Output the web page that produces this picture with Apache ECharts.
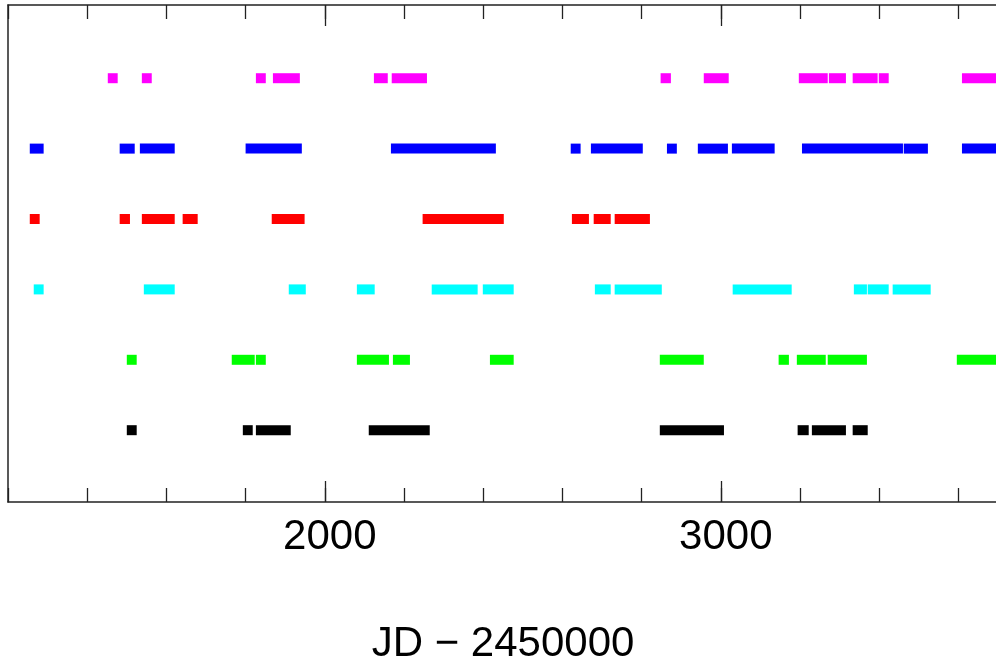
<!DOCTYPE html>
<html>
<head>
<meta charset="utf-8">
<script src="https://cdn.jsdelivr.net/npm/echarts@6/dist/echarts.min.js"></script>
<style>
html,body{margin:0;padding:0;background:#fff;}
#chart{width:996px;height:661px;}
</style>
</head>
<body>
<div id="chart"></div>
<script>
// Observing windows [start, end] in JD - 2450000, one array per row
const rowBlack   = [[1500,1525],[1793,1818],[1826,1914],[2111,2265],[2846,3008],[3194,3222],[3230,3316],[3333,3371]];
const rowGreen   = [[1500,1525],[1765,1823],[1826,1851],[2081,2162],[2172,2215],[2417,2477],[2846,2957],[3146,3172],[3192,3265],[3270,3369],[3596,3720]];
const rowCyan    = [[1265,1290],[1543,1621],[1909,1952],[2081,2126],[2270,2386],[2399,2477],[2682,2722],[2732,2851],[3030,3179],[3336,3369],[3371,3424],[3434,3530]];
const rowRed     = [[1255,1280],[1482,1508],[1538,1621],[1641,1679],[1866,1949],[2247,2452],[2624,2667],[2679,2722],[2732,2821]];
const rowBlue    = [[1255,1290],[1482,1520],[1533,1621],[1800,1942],[2167,2432],[2621,2646],[2672,2803],[2864,2889],[2942,3018],[3028,3136],[3205,3460],[3462,3523],[3609,3720]];
const rowMagenta = [[1452,1477],[1538,1563],[1826,1851],[1869,1937],[2124,2159],[2169,2258],[2848,2874],[2957,3020],[3197,3270],[3273,3316],[3333,3396],[3399,3424],[3609,3720]];

const rows = [
  {data: rowBlack,   level: 1, color: '#000000'},
  {data: rowGreen,   level: 2, color: '#00ff00'},
  {data: rowCyan,    level: 3, color: '#00ffff'},
  {data: rowRed,     level: 4, color: '#ff0000'},
  {data: rowBlue,    level: 5, color: '#0000ff'},
  {data: rowMagenta, level: 6, color: '#ff00ff'}
];

const xMin = 1200, xMax = 3700, minorStep = 200;
const majorMin = 2000, majorStep = 1000;
const tickLabels = [2000, 3000];
const axisName = 'JD \u2212 2450000';

const lineStyle = {color: '#222', width: 1.5};
const tickStyle = {color: '#222', width: 1.3};
const font = '"Liberation Sans", Arial, Helvetica, sans-serif';

// pixel layout
const gLeft = 8, gTop = 5, gW = 990, gH = 497;
const pxPerUnit = gW / (xMax - xMin);
const g2Left = gLeft + (majorMin - xMin) * pxPerUnit;

function makeRender(color) {
  return function (params, api) {
    const s = api.coord([api.value(0), api.value(2)]);
    const e = api.coord([api.value(1), api.value(2)]);
    const h = 10;
    const rect = echarts.graphic.clipRectByRect(
      {x: s[0], y: s[1] - h / 2, width: e[0] - s[0], height: h},
      {x: params.coordSys.x, y: params.coordSys.y, width: params.coordSys.width, height: params.coordSys.height}
    );
    if (!rect) return null;
    return {type: 'rect', shape: rect, style: {fill: color}};
  };
}

function xAxisBase(gridIndex, position, min, interval, tickLen, opts) {
  return Object.assign({
    type: 'value', gridIndex: gridIndex, position: position, min: min, max: xMax, interval: interval,
    axisLine: {show: false},
    axisTick: {show: true, inside: true, length: tickLen, lineStyle: tickStyle},
    axisLabel: {show: false},
    splitLine: {show: false}
  }, opts || {});
}

const chart = echarts.init(document.getElementById('chart'), null, {renderer: 'canvas'});
chart.setOption({
  backgroundColor: '#ffffff',
  animation: false,
  grid: [
    {left: gLeft, top: gTop, width: gW, height: gH, containLabel: false, outerBoundsMode: 'none'},
    {left: g2Left, top: gTop, width: gW - (g2Left - gLeft), height: gH, containLabel: false, outerBoundsMode: 'none'}
  ],
  xAxis: [
    xAxisBase(0, 'bottom', xMin, minorStep, 14, {
      axisLine: {show: true, onZero: false, lineStyle: lineStyle},
      name: axisName, nameLocation: 'middle', nameGap: 121,
      nameTextStyle: {fontSize: 42, color: '#000', fontFamily: font},
      axisLabel: {show: true, customValues: tickLabels, fontSize: 42, color: '#000', fontFamily: font, margin: 14,
                  padding: [0, 0, 0, 10], formatter: v => String(v)}
    }),
    xAxisBase(0, 'top', xMin, minorStep, 14, {
      axisLine: {show: true, onZero: false, lineStyle: lineStyle}
    }),
    xAxisBase(1, 'bottom', majorMin, majorStep, 21),
    xAxisBase(1, 'top', majorMin, majorStep, 21)
  ],
  yAxis: [
    {
      type: 'value', gridIndex: 0, min: -0.02, max: 7.04,
      axisLine: {show: true, lineStyle: lineStyle},
      axisTick: {show: false}, axisLabel: {show: false}, splitLine: {show: false}
    },
    {
      type: 'value', gridIndex: 1, min: 0, max: 1,
      axisLine: {show: false}, axisTick: {show: false}, axisLabel: {show: false}, splitLine: {show: false}
    }
  ],
  series: rows.map(r => ({
    type: 'custom',
    xAxisIndex: 0, yAxisIndex: 0,
    renderItem: makeRender(r.color),
    encode: {x: [0, 1], y: 2},
    data: r.data.map(d => [d[0], d[1], r.level])
  }))
});
</script>
</body>
</html>
